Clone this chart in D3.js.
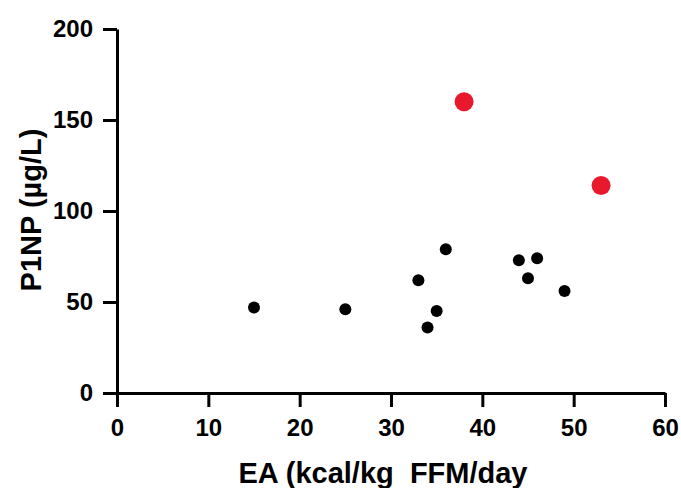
<!DOCTYPE html>
<html>
<head>
<meta charset="utf-8">
<script src="https://cdn.jsdelivr.net/npm/d3@7"></script>
<style>
    body { margin: 0; background: #fff; }
    svg { display: block; }
</style>
</head>
<body>
<svg id="chart"></svg>
<script>
// data
const eaValues = [15, 25, 33, 34, 35, 36, 44, 45, 46, 49];
const p1npValues = [47, 46, 62, 36, 45, 79, 73, 63, 74, 56];
const eaHigh = [38, 53];
const p1npHigh = [160, 114];
const xTicks = [0, 10, 20, 30, 40, 50, 60];
const yTicks = [0, 50, 100, 150, 200];

const W = 681, H = 488;
const margin = {top: 29, right: 16, bottom: 95, left: 117};
const fontFamily = "'Liberation Sans', Arial, sans-serif";

let svg = d3.select("#chart")
    .attr("width", W)
    .attr("height", H);

let x = d3.scaleLinear()
    .domain([0, 60])
    .range([margin.left, W - margin.right]);
let y = d3.scaleLinear()
    .domain([0, 200])
    .range([H - margin.bottom, margin.top]);

// axes
svg.append("g")
    .attr("transform", `translate(0,${y(0)})`)
    .call(d3.axisBottom(x).tickValues(xTicks).tickSize(14).tickSizeOuter(0).tickPadding(12))
    .call(g => g.select(".domain").attr("stroke-width", 3))
    .call(g => g.selectAll(".tick line").attr("stroke-width", 3))
    .call(g => g.selectAll(".tick text")
        .attr("font-family", fontFamily)
        .attr("font-weight", "bold")
        .attr("font-size", 24)
        .attr("fill", "#000"));

svg.append("g")
    .attr("transform", `translate(${x(0)},0)`)
    .call(d3.axisLeft(y).tickValues(yTicks).tickSize(14).tickSizeOuter(0).tickPadding(10))
    .call(g => g.select(".domain").attr("stroke-width", 3))
    .call(g => g.selectAll(".tick line").attr("stroke-width", 3))
    .call(g => g.selectAll(".tick text")
        .attr("font-family", fontFamily)
        .attr("font-weight", "bold")
        .attr("font-size", 24)
        .attr("fill", "#000"));

// axis titles
svg.append("text")
    .attr("x", 383)
    .attr("y", 483)
    .attr("text-anchor", "middle")
    .attr("font-family", fontFamily)
    .attr("font-weight", "bold")
    .attr("font-size", 29)
    .attr("xml:space", "preserve")
    .style("white-space", "pre")
    .text("EA (kcal/kg  FFM/day");

svg.append("text")
    .attr("transform", "translate(41,210) rotate(-90)")
    .attr("text-anchor", "middle")
    .attr("font-family", fontFamily)
    .attr("font-weight", "bold")
    .attr("font-size", 29)
    .text("P1NP (µg/L)");

// points
svg.append("g")
    .selectAll("circle")
    .data(eaValues.map((v, i) => ({ea: v, p1np: p1npValues[i]})))
    .join("circle")
    .attr("cx", d => x(d.ea))
    .attr("cy", d => y(d.p1np))
    .attr("r", 6)
    .attr("fill", "#000");

svg.append("g")
    .selectAll("circle")
    .data(eaHigh.map((v, i) => ({ea: v, p1np: p1npHigh[i]})))
    .join("circle")
    .attr("cx", d => x(d.ea))
    .attr("cy", d => y(d.p1np))
    .attr("r", 9.5)
    .attr("fill", "#e8192c");
</script>
</body>
</html>
